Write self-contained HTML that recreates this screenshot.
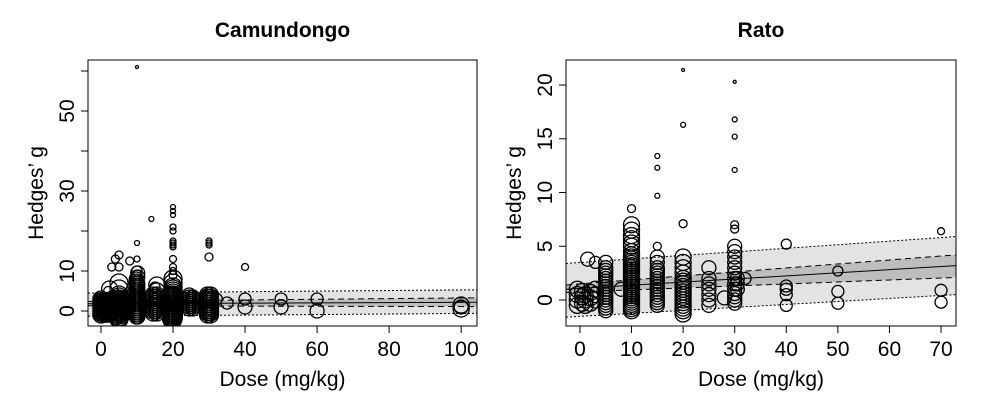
<!DOCTYPE html>
<html><head><meta charset="utf-8"><style>
body{margin:0;background:#fff}
svg{display:block;font-family:"Liberation Sans",Arial,sans-serif}
</style></head><body>
<svg id="chart" width="1000" height="400" viewBox="0 0 1000 400"></svg>
<script>
// ---- Data: Camundongo (mouse) ----
const mouseXTicks=[0,20,40,60,80,100];
const mouseYTicks=[0,10,20,30,40,50,60];
const mouseYLabels=["0","10","","30","","50",""];
const mouseFit=[[-3.6,1.8],[104.4,2.2]];
const mouseCI=[[-3.6,1.3,2.4],[104.4,1.1,3.3]];
const mousePI=[[-3.6,-1.3,4.5],[104.4,-0.6,5.3]];
const mouseClusterDoses=[0,0.8,1.6,2.4,3.2,4.2,5,5.8,9.8,10.2,14.5,15.5,19.6,20,20.4,24.5,25.5,29.6,30.4];
const mouseClusterY=[
[-1,-0.6,-0.2,0.2,0.6,1,1.4,1.8,2.2,2.6,3],
[-0.8,-0.3,0.2,0.7,1.2,1.7,2.2,2.7],
[-0.8,-0.3,0.2,0.7,1.2,1.7,2.2],
[-0.5,0,0.5,1,1.5,2,2.5,5.5],
[-0.5,0,0.5,1,1.5,2,2.5,3],
[-1.5,-1,-0.5,0,0.5,1,1.5,2,2.5,3],
[-2,-1.5,-1,-0.5,0,0.5,1,1.5,2,2.5,3,3.5,4,5.5,7],
[-1,-0.5,0,0.5,1,1.5,2,2.5,3],
[-1.5,-1,-0.5,0,0.5,1,1.5,2,2.5,3,3.5,4,4.5,5,5.5,6,6.5,7,7.5,8],
[-1.5,-1,-0.5,0,0.5,1,1.5,2,2.5,3,3.5,4,4.5,5,5.5,6,6.5,7,8.5,9.5],
[-0.5,0,0.5,1,1.5,2,2.5,3,3.5,4],
[-0.5,0,0.5,1,1.5,2,2.5,3,3.5,4,5,6.5],
[-2,-1.5,-1,-0.5,0,0.5,1,1.5,2,2.5,3,3.5,4],
[-2,-1.5,-1,-0.5,0,0.5,1,1.5,2,2.5,3,3.5,4,4.5,5,5.5,6,7,8],
[-1.5,-1,-0.5,0,0.5,1,1.5,2,2.5,3,3.5,4],
[0.5,1,1.5,2,2.5,3,3.5,4],
[0.5,1,1.5,2,2.5,3,3.5],
[-1,-0.5,0,0.5,1,1.5,2,2.5,3,3.5,4],
[-1,-0.5,0,0.5,1,1.5,2,2.5,3,3.5,4]];
const mouseClusterR=[8,8,8,8,8,8,9,8,7,7,8,8,9,9,8,7,7,8,8];
const mouseExtra=[[10,61,1.5],[10,17,2.5],[14,23,2.5],[20,26,2.5],[20,25,2.5],[20,24,2.5],[20,21,3],[20,20,3],[20,17.5,3],[20,17,3],[20,16.5,3],[20,16,3],[20,13,3.5],[20,11,3.5],[20,10,3.5],[20,9,4],[30,17.5,3],[30,17,3],[30,16.5,3],[30,13.5,4],[40,11,3.5],[3,11,4],[4,13,4],[5,14,4],[5,11,4],[8,12.5,4],[10,13,3],[10,10,5],[10,9,5],[15,6,5],[2,5,4.5],[5,4,5],[32,3,6],[40,1,7],[40,3,6],[50,3,6],[50,1,7],[60,3,6],[60,0,7],[100,1.5,8],[100,0.5,8],[100,1,7],[35,2,6]];
// ---- Data: Rato (rat) ----
const ratXTicks=[0,10,20,30,40,50,60,70];
const ratYTicks=[0,5,10,15,20];
const ratYLabels=["0","5","10","15","20"];
const ratFit=[[-2.7,1.0],[72.9,3.2]];
const ratCI=[[-2.7,0.7,1.4],[72.9,2.1,4.2]];
const ratPI=[[-2.7,-1.6,3.4],[72.9,0.5,5.9]];
const ratClusterDoses=[-0.5,0.5,1,2,3,5,10,15,20,25,30,30.5];
const ratClusterY=[[-0.5,0,0.5,1],[-0.3,0.3,0.8],[-0.5,0,0.5],[-0.3,0.2,0.7],[0,0.5,1],
[-1,-0.75,-0.5,-0.25,0,0.25,0.5,0.75,1,1.25,1.5,1.75,2,2.25,2.5,2.75,3,3.5],
[-1,-0.8,-0.6,-0.4,-0.2,0,0.2,0.4,0.6,0.8,1,1.2,1.4,1.6,1.8,2,2.2,2.4,2.6,2.8,3,3.2,3.4,3.6,3.8,4,4.2,4.5,5,5.3,5.7,6,6.5,7],
[-0.5,-0.25,0,0.25,0.5,0.75,1,1.25,1.5,1.75,2,2.25,2.5,2.75,3,3.5,4],
[-1.3,-1,-0.75,-0.5,-0.25,0,0.25,0.5,0.75,1,1.25,1.5,1.75,2,2.5,3,3.5,4],
[-0.5,0,0.5,1,1.5,2,3],
[-0.3,0,0.3,0.6,1,1.5,2,2.5,3,3.5,4,4.5,5],
[1,1.5,2]];
const ratClusterR=[8,8,8,8,8,7,8,7,8,7,7,7];
const ratExtra=[[1.5,3.8,7],[3,3.5,6],[10,8.5,4],[15,9.7,2.5],[15,12.3,2.5],[15,13.4,2.5],[15,5,4],[20,21.4,1.5],[20,16.3,2.5],[20,7.1,4],[30,12.1,2.5],[30,15.2,2.5],[30,16.8,2.5],[30,20.3,1.5],[30,7,4],[30,6.6,4],[32,2,6],[40,-0.5,6],[40,0.5,6],[40,1,6],[40,1.3,6],[40,5.2,5],[50,-0.3,6],[50,0.8,6],[50,2.7,5],[70,-0.2,6],[70,0.9,6],[70,6.4,3.5],[28,0.2,7],[8,1,7]];

const NS='http://www.w3.org/2000/svg';
const svg=document.getElementById('chart');
function el(t,a,p){const e=document.createElementNS(NS,t);for(const k in a)e.setAttribute(k,a[k]);(p||svg).appendChild(e);return e;}

function panel(cfg){
  const g=el('g',{});
  
  
  const sx=v=>cfg.x0+(v-cfg.xmin)/(cfg.xmax-cfg.xmin)*(cfg.x1-cfg.x0);
  const sy=v=>cfg.y0-(v-cfg.ymin)/(cfg.ymax-cfg.ymin)*(cfg.y0-cfg.y1);
  const clip='clip-'+cfg.name;
  const cp=el('clipPath',{id:clip},g);
  el('rect',{x:cfg.x0,y:cfg.y1,width:cfg.x1-cfg.x0,height:cfg.y0-cfg.y1},cp);
  const inner=el('g',{'clip-path':'url(#'+clip+')'},g);
  const pi=cfg.pi, ci=cfg.ci;
  const piP=el('polygon',{points:`${sx(pi[0][0])},${sy(pi[0][2])} ${sx(pi[1][0])},${sy(pi[1][2])} ${sx(pi[1][0])},${sy(pi[1][1])} ${sx(pi[0][0])},${sy(pi[0][1])}`,fill:'#e3e3e3'},inner);
  
  
  const ciP=el('polygon',{points:`${sx(ci[0][0])},${sy(ci[0][2])} ${sx(ci[1][0])},${sy(ci[1][2])} ${sx(ci[1][0])},${sy(ci[1][1])} ${sx(ci[0][0])},${sy(ci[0][1])}`,fill:'#bdbdbd'},inner);
  
  
  const pts=[];
  cfg.cd.forEach((d,i)=>cfg.cy[i].forEach(y=>pts.push([d,y,cfg.cr[i]])));
  cfg.extra.forEach(p=>pts.push(p));
  pts.forEach(p=>{
    const c=el('circle',{cx:sx(p[0]),cy:sy(p[1]),r:p[2],fill:'none',stroke:'#000','stroke-width':1.3},inner);
    
    
  });
  [1,2].forEach(k=>{
    const l=el('line',{x1:sx(pi[0][0]),y1:sy(pi[0][k]),x2:sx(pi[1][0]),y2:sy(pi[1][k]),stroke:'#000','stroke-dasharray':'2,2'},inner);
    
    
    const m=el('line',{x1:sx(ci[0][0]),y1:sy(ci[0][k]),x2:sx(ci[1][0]),y2:sy(ci[1][k]),stroke:'#000','stroke-dasharray':'6,4'},inner);
    
    
  });
  const f=el('line',{x1:sx(cfg.fit[0][0]),y1:sy(cfg.fit[0][1]),x2:sx(cfg.fit[1][0]),y2:sy(cfg.fit[1][1]),stroke:'#000'},inner);
  
  
  const b=el('rect',{x:cfg.x0,y:cfg.y1,width:cfg.x1-cfg.x0,height:cfg.y0-cfg.y1,fill:'none',stroke:'#000'},g);
  
  
  cfg.xt.forEach(v=>{
    el('line',{x1:sx(v),x2:sx(v),y1:cfg.y0,y2:cfg.y0+7,stroke:'#000'},g);
    const t=el('text',{x:sx(v),y:cfg.y0+30,'font-size':21,'text-anchor':'middle'},g);
    t.textContent=v;
    
    
  });
  cfg.yt.forEach((v,i)=>{
    el('line',{x1:cfg.x0-7,x2:cfg.x0,y1:sy(v),y2:sy(v),stroke:'#000'},g);
    if(cfg.yl[i]){
      const t=el('text',{x:cfg.x0-14,y:sy(v),'font-size':21,'text-anchor':'middle',transform:`rotate(-90 ${cfg.x0-14} ${sy(v)})`},g);
      t.textContent=cfg.yl[i];
      
      
    }
  });
  const tt=el('text',{x:(cfg.x0+cfg.x1)/2,y:37,'font-size':21,'font-weight':'bold','text-anchor':'middle'},g);
  tt.textContent=cfg.title;
  
  
  const xl=el('text',{x:(cfg.x0+cfg.x1)/2,y:386,'font-size':21,'text-anchor':'middle'},g);
  xl.textContent='Dose (mg/kg)';
  
  
  const yx=cfg.x0-45,yy=(cfg.y0+cfg.y1)/2;
  const yl=el('text',{x:yx,y:yy,'font-size':21,'text-anchor':'middle',transform:`rotate(-90 ${yx} ${yy})`},g);
  yl.textContent="Hedges\u2019 g";
  
  
}
panel({name:'mouse-panel',title:'Camundongo',x0:88,x1:477,y0:326,y1:60,xmin:-3.6,xmax:104.4,ymin:-3.75,ymax:62.75,xt:mouseXTicks,yt:mouseYTicks,yl:mouseYLabels,fit:mouseFit,ci:mouseCI,pi:mousePI,cd:mouseClusterDoses,cy:mouseClusterY,cr:mouseClusterR,extra:mouseExtra});
panel({name:'rat-panel',title:'Rato',x0:566,x1:956,y0:326,y1:60,xmin:-2.7,xmax:72.9,ymin:-2.42,ymax:22.33,xt:ratXTicks,yt:ratYTicks,yl:ratYLabels,fit:ratFit,ci:ratCI,pi:ratPI,cd:ratClusterDoses,cy:ratClusterY,cr:ratClusterR,extra:ratExtra});
</script>
</body></html>
